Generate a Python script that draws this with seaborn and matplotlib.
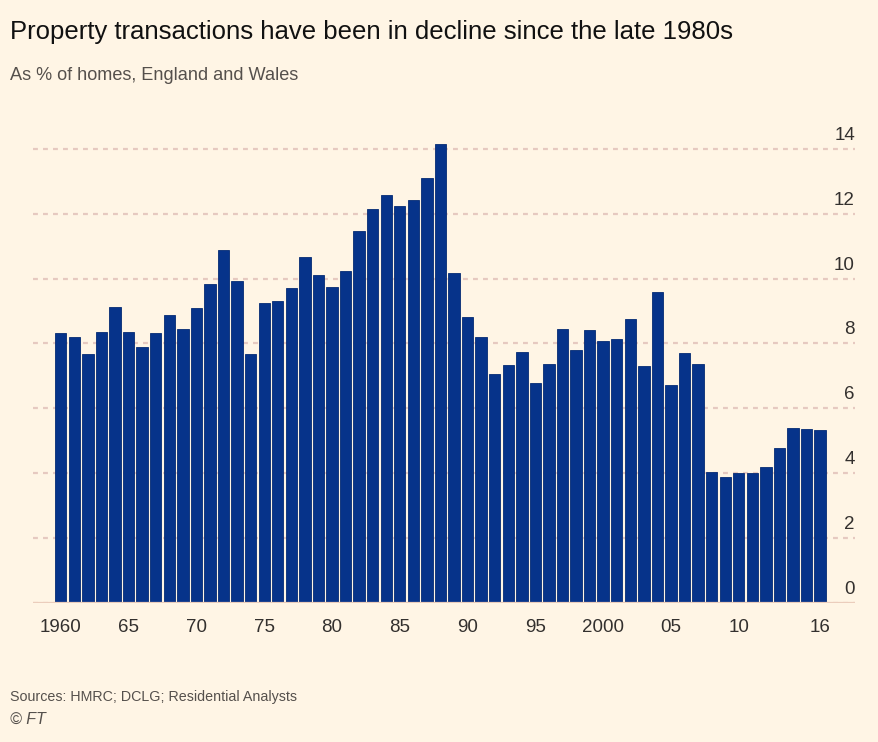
import matplotlib
matplotlib.use("Agg")
import matplotlib.pyplot as plt
import matplotlib.transforms as mtrans
import seaborn as sns
import pandas as pd

years = list(range(1960, 2017))
values = [8.31, 8.20, 7.68, 8.34, 9.12, 8.35, 7.90, 8.33, 8.86, 8.43,
          9.08, 9.84, 10.87, 9.92, 7.66, 9.23, 9.31, 9.70, 10.67, 10.12,
          9.74, 10.23, 11.46, 12.15, 12.58, 12.23, 12.43, 13.09, 14.16, 10.18,
          8.82, 8.18, 7.05, 7.32, 7.73, 6.78, 7.35, 8.43, 7.78, 8.40,
          8.08, 8.13, 8.76, 7.31, 9.59, 6.71, 7.71, 7.37, 4.02, 3.88,
          4.01, 3.99, 4.18, 4.78, 5.38, 5.37, 5.33]
x_tick_years = [1960, 1965, 1970, 1975, 1980, 1985, 1990, 1995, 2000, 2005, 2010, 2016]
x_tick_labels = ["1960", "65", "70", "75", "80", "85", "90", "95", "2000", "05", "10", "16"]
y_ticks = [0, 2, 4, 6, 8, 10, 12, 14]
y_tick_labels = ["0", "2", "4", "6", "8", "10", "12", "14"]

title = "Property transactions have been in decline since the late 1980s"
subtitle = "As % of homes, England and Wales"
source = "Sources: HMRC; DCLG; Residential Analysts"
credit = "© FT"

BG = "#FFF5E5"
BAR = "#06338A"
GRID = "#E6C9C0"
TEXT = "#33302E"

sns.set_theme(style="white")
plt.rcParams["font.family"] = ["Liberation Sans", "DejaVu Sans"]

df = pd.DataFrame({"year": [str(y) for y in years], "value": values})

fig = plt.figure(figsize=(8.79, 7.42), dpi=100, facecolor=BG)
ax = fig.add_axes([33 / 879, (742 - 602.5) / 742, (855 - 33) / 879, (602.5 - 139.2) / 742])
ax.set_facecolor(BG)

sns.barplot(data=df, x="year", y="value", color=BAR, saturation=1, width=0.84,
            edgecolor="#042A73", linewidth=0.6, ax=ax, zorder=3)

ax.set_xlim(-2.05, 58.57)
ax.set_ylim(0, 14.3)

for s in ax.spines.values():
    s.set_visible(False)

ax.set_yticks(y_ticks)
ax.yaxis.grid(True, color=GRID, linestyle=(0, (2.2, 2.3)), linewidth=1.6, zorder=0)
ax.axhline(0, color="#EBCDBC", linewidth=1.6, zorder=4)

ax.yaxis.tick_right()
ax.set_yticklabels(y_tick_labels)
ax.tick_params(axis="y", length=0, pad=0, labelsize=13.5, labelcolor=TEXT)
for lab in ax.get_yticklabels():
    lab.set_horizontalalignment("right")
    lab.set_verticalalignment("bottom")
    lab.set_transform(lab.get_transform() + mtrans.ScaledTranslation(0, 5 / 100, fig.dpi_scale_trans))

idx = [years.index(y) for y in x_tick_years]
ax.set_xticks(idx)
ax.set_xticklabels(x_tick_labels)
ax.tick_params(axis="x", length=0, pad=12, labelsize=13.5, labelcolor=TEXT)
ax.set_xlabel("")
ax.set_ylabel("")

renderer = fig.canvas.get_renderer()


def fitted_text(y_px, s, width_px, start_size, color, **kw):
    t = fig.text(10 / 879, 1 - y_px / 742, s, fontsize=start_size, color=color,
                 va="center", ha="left", **kw)
    w = t.get_window_extent(renderer).width
    t.set_fontsize(start_size * width_px / w)
    return t


fitted_text(32, title, 720, 20, "#111111")
fitted_text(76, subtitle, 290, 14, "#55504C")
fitted_text(697, source, 287, 11.5, "#55504C")
fig.text(10 / 879, 1 - 719 / 742, credit, fontsize=11.5, color="#55504C",
         va="center", ha="left", style="italic")

fig.savefig("out.png", dpi=100, facecolor=BG)
